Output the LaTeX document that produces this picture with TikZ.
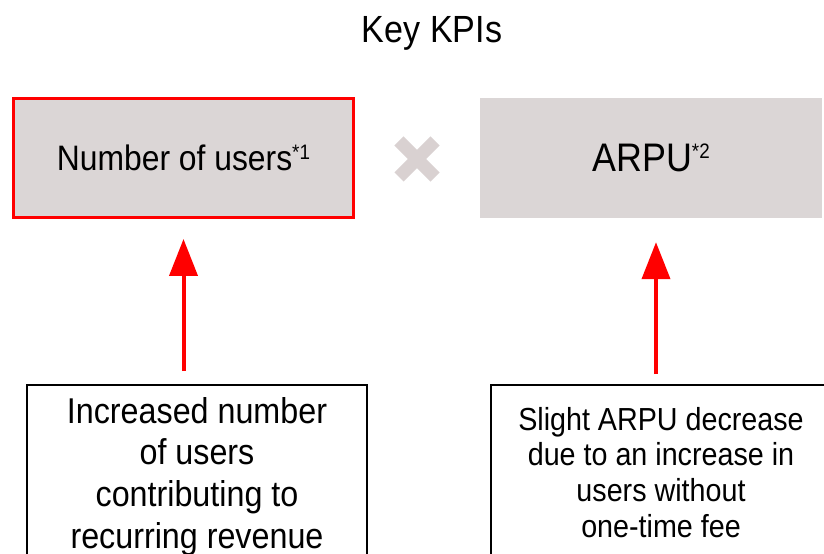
\documentclass[tikz,border=0pt]{standalone}
\usepackage{fontspec}
\setmainfont{Liberation Sans}[FakeStretch=0.9]
\usepackage{tikz}
\usetikzlibrary{arrows.meta,shapes.misc}
\newcommand{\kpisup}[1]{\raisebox{0.33em}{\fontsize{21}{21}\selectfont #1}}

\begin{document}
\begin{tikzpicture}[>={Triangle[length=37bp,width=28bp]},line join=miter]
%%
\definecolor{kpigray}{rgb}{0.86,0.84,0.84};
\definecolor{kpired}{rgb}{1.0,0.0,0.0};
\definecolor{crossgray}{rgb}{0.85,0.82,0.82};
  \path[use as bounding box] (0bp,0bp) rectangle (824bp,554bp);
  \clip (0bp,0bp) rectangle (824bp,554bp);
  \node (title) at (432bp,511bp) [anchor=base,font={\fontsize{38}{44}\selectfont}] {Key KPIs};
  \node (nusers) at (183.5bp,396bp) [draw=kpired,line width=3bp,fill=kpigray,minimum width=340bp,minimum height=119bp,font={\fontsize{35.5}{40}\selectfont}] {Number of users\kpisup{*1}};
  \node (times) at (417bp,395bp) [cross out,draw=crossgray,line width=13bp,minimum width=36bp,minimum height=36bp,inner sep=0pt,outer sep=0pt] {};
  \node (arpu) at (651bp,396bp) [fill=kpigray,minimum width=342bp,minimum height=120bp,font={\fontsize{40}{44}\selectfont}] {ARPU\kpisup{*2}};
  \node (incbox) at (197bp,77.5bp) [draw,line width=1.5bp,minimum width=340bp,minimum height=183bp,align=center,font={\fontsize{36}{42}\selectfont}] {Increased number\\of users\\contributing to\\recurring revenue};
  \node (decbox) at (661bp,81.5bp) [draw,line width=1.5bp,minimum width=340bp,minimum height=175bp,align=center,font={\fontsize{32}{36}\selectfont}] {Slight ARPU decrease\\due to an increase in\\users without\\one-time fee};
  \draw [->,draw=kpired,line width=4bp,shorten <=13bp,shorten >=20bp] (nusers.south |- incbox.north) -- (nusers.south);
  \draw [->,draw=kpired,line width=4bp,shorten <=10bp,shorten >=24bp] ([xshift=5bp]arpu.south |- decbox.north) -- ([xshift=5bp]arpu.south);
%
\end{tikzpicture}
\end{document}
